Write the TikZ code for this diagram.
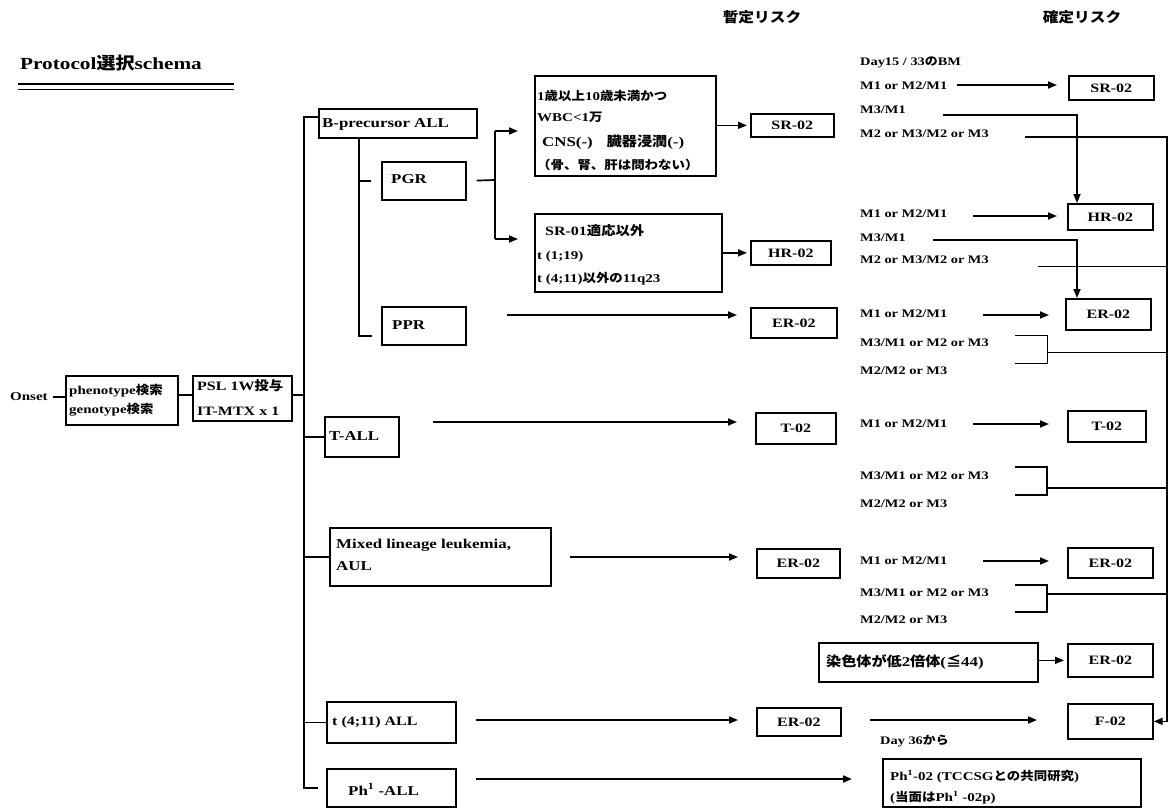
\documentclass[tikz,border=0pt]{standalone}
\usepackage{fontspec}
\setmainfont{Liberation Serif}[FakeStretch=1.25]
\newfontfamily\cj{Noto Sans CJK JP}[FakeStretch=1.12]
\usetikzlibrary{arrows.meta}
\newcommand\fsMain{\bfseries\fontsize{12.8}{14}\selectfont}
\newcommand\fsBig{\bfseries\fontsize{13.5}{15}\selectfont}
\newcommand\fsM{\bfseries\fontsize{11.5}{13}\selectfont}
\newcommand\fsS{\bfseries\fontsize{12}{13}\selectfont}
\newcommand\bx[6]{\node[box, minimum width=#4pt-#2pt, minimum height=#5pt-#3pt] (#1) at (#2,#3) {#6};}
\tikzset{
  box/.style={draw, line width=1.7pt, inner sep=0pt, anchor=north west, font=\fsMain},
  lbl/.style={anchor=west, inner sep=0pt, text height=8.5pt, text depth=2.5pt, font=\fsMain},
  mt/.style={lbl, font=\fsM},
  ln/.style={line width=1.7pt},
  thn/.style={line width=0.9pt},
  arr/.style={ln, -{Triangle[length=9pt,width=7pt]}},
}
\begin{document}
\begin{tikzpicture}[x=1pt,y=-1pt]
\useasboundingbox (0,0) rectangle (1170,807);
% headers and title
\node[font=\bfseries\fontsize{14}{15}\selectfont] (h1) at (762,17) {\cj 暫定リスク};
\node[font=\bfseries\fontsize{14}{15}\selectfont] (h2) at (1082,17) {\cj 確定リスク};
\node[lbl, font=\bfseries\fontsize{17}{18}\selectfont] (title) at (20,66) {Protocol{\cj 選択}schema};
\draw[line width=1.5pt] (18,84) -- (234,84);
\draw[line width=0.9pt] (18,89) -- (234,89);
% left chain
\node[lbl, font=\fsS] (onset) at (10,397) {Onset};
\bx{pheno}{65}{375}{177}{424}{}
\node[lbl, font=\fsS] (ph1) at (69,391) {phenotype{\cj 検索}};
\node[lbl, font=\fsS] (ph2t) at (69,410) {genotype{\cj 検索}};
\bx{psl}{192}{375}{291}{420}{}
\node[lbl, font=\fsMain] (psl1) at (197,387) {PSL 1W{\cj 投与}};
\node[lbl, font=\fsMain] (psl2) at (197,412) {IT-MTX x 1};
\coordinate (yc) at (0,395);
\coordinate (mtop) at (304,117);
\coordinate (mbot) at (304,788);
\coordinate (phL) at (318,788);
\draw[ln] ([xshift=5pt]onset.east) -- (onset.east -| pheno.west);
\draw[ln] (yc -| pheno.east) -- (yc -| psl.west);
\draw[ln] (yc -| psl.east) -- (yc -| mtop);
% first-level boxes
\bx{bprec}{318}{108}{476}{137}{}
\node[lbl, font=\fsBig] (tb) at (322,124) {B-precursor ALL};
\bx{tall}{324}{416}{398}{456}{}
\node[lbl, font=\fsBig] (tt) at (329,437) {T-ALL};
\bx{mix}{329}{527}{550}{585}{}
\node[lbl, font=\fsBig] (tm1) at (336,545) {Mixed lineage leukemia,};
\node[lbl, font=\fsBig] (tm2) at (336,567) {AUL};
\bx{tfo}{326}{701}{455}{742}{}
\node[lbl] (tf) at (332,722) {t (4;11) ALL};
\bx{ph}{326}{768}{455}{806}{}
\node[lbl, font=\fsBig] (tp) at (348,792) {Ph\textsuperscript{1} -ALL};
\draw[ln] (bprec.west |- mtop) -- (mtop) -- (mbot) -- (phL);
\draw[ln] (tall.west -| mtop) -- (tall.west);
\draw[ln] (mix.west -| mtop) -- (mix.west);
\draw[ln] (tfo.west -| mtop) -- (tfo.west);
% PGR / PPR
\bx{pgr}{381}{161}{465}{199}{}
\node[lbl, font=\fsBig] (tpg) at (391,180) {PGR};
\bx{ppr}{381}{306}{465}{344}{}
\node[lbl, font=\fsBig] (tpp) at (392,326) {PPR};
\coordinate (iv1) at (359,137);
\coordinate (iv2) at (359,336);
\coordinate (iv3) at (372,336);
\draw[ln] (bprec.south -| iv1) -- (iv2) -- (iv3);
\draw[ln, shorten >=10pt] (iv1 |- pgr.west) -- (pgr.west);
% conditions
\bx{cond1}{534}{75}{715}{175}{}
\node[lbl, font=\fsS] (c11) at (537,97) {1{\cj 歳以上}10{\cj 歳未満かつ}};
\node[lbl, font=\fsS] (c12) at (537,118) {WBC<1{\cj 万}};
\node[lbl, font=\fsBig] (c13) at (542,143) {CNS(-)\hspace{14pt}{\cj 臓器浸潤}(-)};
\node[lbl, font=\fsS] (c14) at (537,166) {\cj （骨、腎、肝は問わない）};
\bx{cond2}{534}{213}{721}{291}{}
\node[lbl, font=\fsMain] (c21) at (545,232) {SR-01{\cj 適応以外}};
\node[lbl, font=\fsS] (c22) at (537,256) {t (1;19)};
\node[lbl, font=\fsS] (c23) at (537,279) {t (4;11){\cj 以外の}11q23};
\coordinate (brk) at (495,180);
\coordinate (b1) at (495,131);
\coordinate (b2) at (495,239);
\draw[ln, shorten <=10pt] (pgr.east) -- (brk);
\draw[ln] (b1) -- (b2);
\draw[arr, shorten >=16pt] (b1) -- (b1 -| cond1.west);
\draw[arr, shorten >=16pt] (b2) -- (b2 -| cond2.west);
% provisional risk
\bx{srA}{750}{113}{833}{136}{SR-02}
\bx{hrA}{750}{240}{830}{264}{HR-02}
\bx{erB}{750}{307}{836}{337}{ER-02}
\bx{tA}{755}{412}{835}{443}{T-02}
\bx{erC}{756}{548}{839}{577}{ER-02}
\bx{erD}{756}{707}{840}{735}{ER-02}
\draw[arr, shorten >=3pt] (srA.west -| cond1.east) -- (srA.west);
\draw[arr, shorten >=3pt] (hrA.west -| cond2.east) -- (hrA.west);
\coordinate (pa) at (507,315);
\draw[arr, shorten >=13pt] (pa) -- (pa -| erB.west);
\coordinate (ta) at (433,422);
\draw[arr, shorten >=18pt] (ta) -- (ta -| tA.west);
\coordinate (xa) at (570,557);
\draw[arr, shorten >=18pt] (xa) -- (xa -| erC.west);
\coordinate (fa) at (476,720);
\draw[arr, shorten >=18pt] (fa) -- (fa -| erD.west);
% Ph
\bx{phB}{882}{758}{1140}{806}{}
\node[lbl, font=\fsS] (p1) at (890,777) {Ph\textsuperscript{1}-02 (TCCSG{\cj との共同研究})};
\node[lbl, font=\fsS] (p2) at (890,798) {({\cj 当面は}Ph\textsuperscript{1} -02p)};
\coordinate (pha) at (476,779);
\draw[arr, shorten >=30pt] (pha) -- (pha -| phB.west);
% definitive risk
\coordinate (vx) at (1077,0);
\coordinate (rx) at (1167,0);
\bx{srB}{1068}{75}{1153}{99}{SR-02}
\bx{hrB}{1067}{203}{1152}{229}{HR-02}
\bx{erE}{1065}{298}{1150}{329}{ER-02}
\bx{tB}{1067}{410}{1145}{441}{T-02}
\bx{erF}{1067}{547}{1152}{577}{ER-02}
\bx{erG}{1067}{643}{1152}{676}{ER-02}
\bx{fB}{1067}{703}{1152}{738}{F-02}
% SR block
\node[mt] (d15) at (860,62) {Day15 / 33{\cj の}BM};
\node[mt] (s1) at (860,86) {M1 or M2/M1};
\node[mt] (s2) at (860,110) {M3/M1};
\node[mt] (s3) at (860,134) {M2 or M3/M2 or M3};
\coordinate (a1) at (957,85);
\draw[arr, shorten >=11pt] (a1) -- (a1 -| srB.west);
\coordinate (a2) at (943,115);
\draw[arr] (a2) -| (vx |- hrB.north);
\coordinate (a3) at (1025,137);
\draw[arr] (a3) -| (rx |- fB.east) -- (fB.east);
% HR block
\node[mt] (h1t) at (860,214) {M1 or M2/M1};
\node[mt] (h2t) at (860,238) {M3/M1};
\node[mt] (h3t) at (860,260) {M2 or M3/M2 or M3};
\coordinate (a4) at (973,216);
\draw[arr, shorten >=10pt] (a4) -- (a4 -| hrB.west);
\coordinate (a5) at (933,240);
\draw[arr] (a5) -| (vx |- erE.north);
\coordinate (a6) at (1038,266);
\draw[thn] (a6) -- (a6 -| rx);
% ER block
\node[mt] (e1) at (860,314) {M1 or M2/M1};
\node[mt] (e2) at (860,343) {M3/M1 or M2 or M3};
\node[mt] (e3) at (860,371) {M2/M2 or M3};
\coordinate (a7) at (983,315);
\draw[arr, shorten >=16pt] (a7) -- (a7 -| erE.west);
\coordinate (k1) at (1015,335);
\coordinate (k2) at (1047,335);
\coordinate (k3) at (1047,363);
\coordinate (k4) at (1015,363);
\coordinate (k5) at (1047,352);
\draw[thn] (k1) -- (k2) -- (k3) -- (k4);
\draw[thn] (k5) -- (k5 -| rx);
% T block
\node[mt] (t1) at (860,424) {M1 or M2/M1};
\node[mt] (t2) at (860,476) {M3/M1 or M2 or M3};
\node[mt] (t3) at (860,504) {M2/M2 or M3};
\coordinate (a8) at (973,424);
\draw[arr, shorten >=18pt] (a8) -- (a8 -| tB.west);
\coordinate (m1) at (1015,467);
\coordinate (m2) at (1047,467);
\coordinate (m3) at (1047,495);
\coordinate (m4) at (1015,495);
\coordinate (m5) at (1047,488);
\draw[ln] (m1) -- (m2) -- (m3) -- (m4);
\draw[ln] (m5) -- (m5 -| rx);
% Mixed block
\node[mt] (x1) at (860,561) {M1 or M2/M1};
\node[mt] (x2) at (860,593) {M3/M1 or M2 or M3};
\node[mt] (x3) at (860,620) {M2/M2 or M3};
\coordinate (a9) at (983,561);
\draw[arr, shorten >=18pt] (a9) -- (a9 -| erF.west);
\coordinate (n1) at (1015,585);
\coordinate (n2) at (1047,585);
\coordinate (n3) at (1047,612);
\coordinate (n4) at (1015,612);
\coordinate (n5) at (1047,594);
\draw[ln] (n1) -- (n2) -- (n3) -- (n4);
\draw[ln] (n5) -- (n5 -| rx);
% chromosome
\bx{chrom}{818}{642}{1037}{681}{}
\node[lbl, font=\fsBig] (ch) at (826,663) {{\cj 染色体が低}2{\cj 倍体}({\cj ≦}44)};
\draw[arr, shorten >=3pt] (erG.west -| chrom.east) -- (erG.west);
% t(4;11) to F-02
\coordinate (fz) at (870,720);
\draw[arr, shorten >=30pt] (fz) -- (fz -| fB.west);
\node[mt] (d36) at (880,741) {Day 36{\cj から}};
\end{tikzpicture}
\end{document}
